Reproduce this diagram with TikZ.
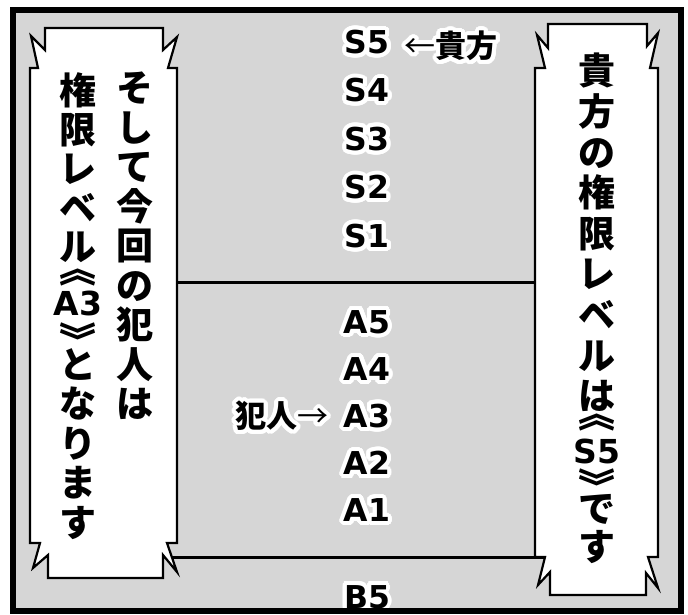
\documentclass[tikz,border=0pt]{standalone}
\usepackage{fontspec}
\usepackage[copies]{contour}
\usetikzlibrary{positioning}
\newfontfamily\jp{Noto Sans CJK JP}
\newfontfamily\lat{DejaVu Sans}
\contourlength{4pt}
\contournumber{32}
\newcommand{\halo}[1]{\contour{white}{#1}}

\begin{document}
\begin{tikzpicture}[x=1pt, y=-1pt, node distance=48.5pt]
	\tikzstyle{level} = [font=\lat\bfseries\fontsize{31.5}{31.5}\selectfont, inner sep=0pt]
	\tikzstyle{note} = [font=\jp\bfseries\fontsize{31}{31}\selectfont, inner sep=0pt]
	\tikzstyle{bubble} = [draw, line width=2.2pt, fill=white, line join=miter]
	\tikzstyle{speech} = [font=\jp\bfseries\fontsize{37}{40.6}\selectfont, align=center, inner sep=0pt, anchor=north]
	\tikzstyle{chevron} = [font=\jp\bfseries\fontsize{37}{37}\selectfont, inner sep=0pt]
	\tikzstyle{tag} = [font=\lat\bfseries\fontsize{33}{33}\selectfont, inner sep=0pt]
	\tikzstyle{bar} = [line width=3pt]

	\useasboundingbox (0,0) rectangle (688,614);
	\fill[black!16] (13,10) rectangle (681,611);

	\begin{scope}
		\clip (13,10) rectangle (681,611);
		\draw[bar] (170,282) -- (545,282);
		\draw[bar] (170,557) -- (545,557);

		\begin{scope}
			\node[level] (s5) at (367,44) {\halo{S5}};
			\node[level, below of=s5] (s4) {\halo{S4}};
			\node[level, below of=s4] (s3) {\halo{S3}};
			\node[level, below of=s3] (s2) {\halo{S2}};
			\node[level, below of=s2] (s1) {\halo{S1}};
			\node[note, right=15pt of s5, yshift=-4pt] (you) {\halo{{\mdseries ←}貴方}};
		\end{scope}

		\begin{scope}[node distance=47pt]
			\node[level] (a5) at (367,324) {\halo{A5}};
			\node[level, below of=a5] (a4) {\halo{A4}};
			\node[level, below of=a4] (a3) {\halo{A3}};
			\node[level, below of=a3] (a2) {\halo{A2}};
			\node[level, below of=a2] (a1) {\halo{A1}};
			\node[note, left=15pt of a3] (culprit) {\halo{犯人{\mdseries →}}};
		\end{scope}

		\node[level] (b5) at (367,599) {\halo{B5}};
	\end{scope}

	% left bubble
	\draw[bubble] (30,68) -- (38,68) -- (31,36) -- (45,50) -- (45,28) -- (163,28) -- (163,50) -- (177,37)
		-- (168,68) -- (177,68) -- (177,543) -- (167,543) -- (177,572) -- (163,555) -- (163,578)
		-- (48,578) -- (48,555) -- (33,568) -- (40,543) -- (30,543) -- cycle;
	\node[speech, font=\jp\bfseries\fontsize{37}{39.5}\selectfont] (then) at (135,72)
		{そ\\し\\て\\今\\回\\の\\犯\\人\\は};
	\node[speech, font=\jp\bfseries\fontsize{37}{39}\selectfont] (rank) at (78,72)
		{権\\限\\レ\\ベ\\ル};
	\node[chevron] (rank-open) at (78,277) {︽};
	\node[tag] (rank-level) at (78,303) {A3};
	\node[chevron] (rank-close) at (78,339) {︾};
	\node[speech, font=\jp\bfseries\fontsize{37}{39.5}\selectfont] (rank-end) at (78,348)
		{と\\な\\り\\ま\\す};

	% right bubble
	\draw[bubble] (535,68) -- (545,68) -- (537,35) -- (548,48) -- (548,24) -- (647,24) -- (647,46) -- (658,33)
		-- (650,68) -- (658,68) -- (658,557) -- (648,557) -- (658,588) -- (646,573) -- (646,595)
		-- (550,595) -- (550,572) -- (538,585) -- (545,557) -- (535,557) -- cycle;
	\node[speech] (yours) at (597,53)
		{貴\\方\\の\\権\\限\\レ\\ベ\\ル\\は};
	\node[chevron] (yours-open) at (597,422) {︽};
	\node[tag] (yours-level) at (597,451) {S5};
	\node[chevron] (yours-close) at (597,485) {︾};
	\node[speech, font=\jp\bfseries\fontsize{37}{38}\selectfont] (yours-end) at (597,494)
		{で\\す};

	\draw[line width=6pt] (13,10) rectangle (681,611);
\end{tikzpicture}
\end{document}
